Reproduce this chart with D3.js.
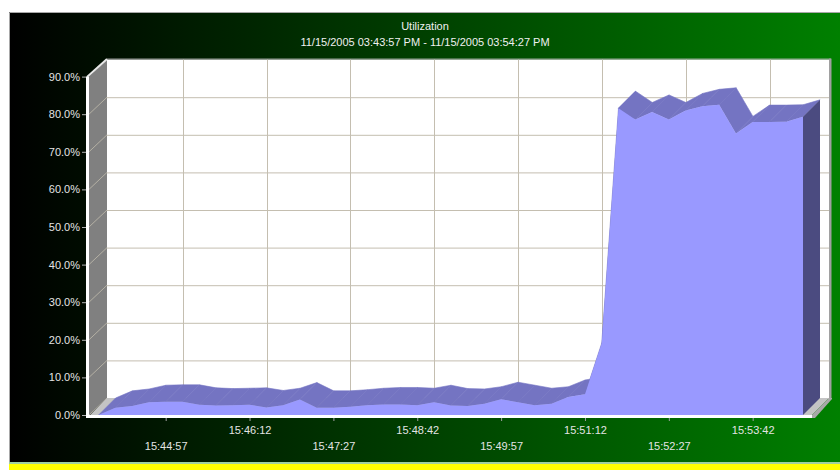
<!DOCTYPE html>
<html>
<head>
<meta charset="utf-8">
<script src="https://cdn.jsdelivr.net/npm/d3@7"></script>
<style>
  html, body { margin: 0; padding: 0; background: #ffffff; }
  svg { display: block; }
  text { font-family: "Liberation Sans", Arial, sans-serif; }
</style>
</head>
<body>
<svg id="chart" width="840" height="470"></svg>
<script>
// ---------- data ----------
const chartTitle = "Utilization";
const chartSubtitle = "11/15/2005 03:43:57 PM - 11/15/2005 03:54:27 PM";

const times = [
  "15:43:57","15:44:12","15:44:27","15:44:42","15:44:57","15:45:12","15:45:27","15:45:42",
  "15:45:57","15:46:12","15:46:27","15:46:42","15:46:57","15:47:12","15:47:27","15:47:42",
  "15:47:57","15:48:12","15:48:27","15:48:42","15:48:57","15:49:12","15:49:27","15:49:42",
  "15:49:57","15:50:12","15:50:27","15:50:42","15:50:57","15:51:12","15:51:27","15:51:42",
  "15:51:57","15:52:12","15:52:27","15:52:42","15:52:57","15:53:12","15:53:27","15:53:42",
  "15:53:57","15:54:12","15:54:27"
];
const utilization = [
  0.0, 1.9, 2.4, 3.4, 3.5, 3.5, 2.7, 2.5,
  2.6, 2.7, 2.0, 2.6, 4.1, 1.9, 1.9, 2.2,
  2.6, 2.8, 2.8, 2.6, 3.4, 2.5, 2.4, 3.0,
  4.2, 3.4, 2.6, 3.0, 4.8, 5.5, 19.1, 81.6,
  78.6, 80.6, 78.6, 81.0, 82.1, 82.5, 74.9, 77.9,
  77.9, 78.0, 79.3
];
const xTickLabels = ["15:44:57","15:46:12","15:47:27","15:48:42","15:49:57","15:51:12","15:52:27","15:53:42"];
const yTickValues = [0, 10, 20, 30, 40, 50, 60, 70, 80, 90];

// ---------- layout ----------
const W = 840, H = 470;
const DX = 17, DY = 17;           // 3D depth offset
const FL = 90, FR = 812;          // floor front left/right
const Y0 = 415, Y90 = 76.6;       // front y of 0% and 90%
const XS = 98.6, XE = 803;        // x of first/last sample

const parse = d3.timeParse("%H:%M:%S");
const data = times.map((t, i) => ({ t: parse(t), v: utilization[i] }));

const x = d3.scaleTime().domain([data[0].t, data[data.length - 1].t]).range([XS, XE]);
const y = d3.scaleLinear().domain([0, 90]).range([Y0, Y90]);

const svg = d3.select("#chart");

// ---------- background panel ----------
const defs = svg.append("defs");
const grad = defs.append("linearGradient").attr("id", "bg").attr("x1", 0).attr("x2", 1).attr("y1", 0).attr("y2", 0);
grad.append("stop").attr("offset", "0%").attr("stop-color", "#000000");
grad.append("stop").attr("offset", "100%").attr("stop-color", "#008000");

svg.append("rect").attr("x", 0).attr("y", 0).attr("width", W).attr("height", H).attr("fill", "#ffffff");
svg.append("rect").attr("x", 9).attr("y", 12).attr("width", W - 9).attr("height", 450).attr("fill", "url(#bg)");
svg.append("path").attr("d", `M9.5,462 V12.5 H${W}`).attr("fill", "none").attr("stroke", "#a8a8a8").attr("stroke-width", 1);
svg.append("rect").attr("x", 9).attr("y", 462).attr("width", W - 9).attr("height", 2).attr("fill", "#9fd09f");
svg.append("rect").attr("x", 9).attr("y", 464).attr("width", W - 9).attr("height", 6).attr("fill", "#ffff00");

// ---------- titles ----------
svg.append("text").attr("x", 425).attr("y", 30).attr("text-anchor", "middle")
  .attr("font-size", 11).attr("fill", "#f0f0f0").text(chartTitle);
svg.append("text").attr("x", 425).attr("y", 46).attr("text-anchor", "middle")
  .attr("font-size", 11).attr("fill", "#f0f0f0").text(chartSubtitle);

// ---------- back wall ----------
const bx0 = FL + DX, bx1 = FR + DX, by0 = y(0) - DY, by1 = y(90) - DY;
svg.append("rect").attr("x", bx0).attr("y", by1).attr("width", bx1 - bx0).attr("height", by0 - by1).attr("fill", "#ffffff");
svg.append("line").attr("x1", bx0).attr("x2", bx1 + 2).attr("y1", by1 - 0.5).attr("y2", by1 - 0.5)
  .attr("stroke", "#b8b8b8").attr("stroke-width", 1);
svg.append("rect").attr("x", bx1).attr("y", by1 - 1).attr("width", 2.5).attr("height", by0 - by1 + 1).attr("fill", "#a0a0a0");

const gridColor = "#c4beb0";
const grid = svg.append("g");
yTickValues.filter(v => v < 90).forEach(v => {
  grid.append("line").attr("x1", bx0).attr("x2", bx1).attr("y1", y(v) - DY + 0.5).attr("y2", y(v) - DY + 0.5)
    .attr("stroke", gridColor).attr("stroke-width", 1);
});
xTickLabels.forEach(s => {
  const gx = Math.round(x(parse(s)) + DX) + 0.5;
  grid.append("line").attr("x1", gx).attr("x2", gx).attr("y1", by1).attr("y2", by0)
    .attr("stroke", gridColor).attr("stroke-width", 1);
});

// ---------- left wall ----------
svg.append("polygon")
  .attr("points", [[FL - 1, y(90)], [bx0, by1], [bx0, by0], [FL - 1, y(0)]].map(p => p.join(",")).join(" "))
  .attr("fill", "#808080");
yTickValues.filter(v => v < 90).forEach(v => {
  svg.append("line").attr("x1", FL - 1).attr("y1", y(v)).attr("x2", bx0).attr("y2", y(v) - DY)
    .attr("stroke", "#b4b0a4").attr("stroke-width", 1);
});
svg.append("line").attr("x1", FL - 3).attr("y1", y(90) + 0.5).attr("x2", bx0).attr("y2", by1 - 0.5)
  .attr("stroke", "#e8e8e8").attr("stroke-width", 2);

// ---------- floor ----------
svg.append("polygon")
  .attr("points", [[FL, y(0)], [FR, y(0)], [FR + DX, by0], [FL + DX, by0]].map(p => p.join(",")).join(" "))
  .attr("fill", "#c4c4c4");

// ---------- 3D area ----------
const topColor = "#7474c2", frontColor = "#9999ff", capColor = "#4b4b80";
const tops = svg.append("g");
for (let i = 0; i < data.length - 1; i++) {
  const a = data[i], b = data[i + 1];
  const pts = [
    [x(a.t), y(a.v)], [x(b.t), y(b.v)],
    [x(b.t) + DX, y(b.v) - DY], [x(a.t) + DX, y(a.v) - DY]
  ];
  tops.append("polygon").attr("points", pts.map(p => p.join(",")).join(" "))
    .attr("fill", topColor).attr("stroke", topColor).attr("stroke-width", 0.6).attr("stroke-linejoin", "round");
}
const area = d3.area().x(d => x(d.t)).y0(y(0)).y1(d => y(d.v));
svg.append("path").datum(data).attr("d", area).attr("fill", frontColor);

const last = data[data.length - 1];
svg.append("polygon")
  .attr("points", [[x(last.t), y(last.v)], [x(last.t) + DX, y(last.v) - DY], [x(last.t) + DX, y(0) - DY], [x(last.t), y(0)]]
    .map(p => p.join(",")).join(" "))
  .attr("fill", capColor);

// ---------- floor front edge and right side ----------
svg.append("polygon")
  .attr("points", [[FR, y(0)], [FR + DX, by0], [FR + DX + 3, by0], [FR + DX + 3, by0 + 1], [FR + 3, y(0) + 3], [FR, y(0) + 3]]
    .map(p => p.join(",")).join(" "))
  .attr("fill", "#a8a8a8");
svg.append("rect").attr("x", FL - 4).attr("y", y(0)).attr("width", FR - FL + 4).attr("height", 3).attr("fill", "#ffffff");
svg.append("rect").attr("x", FL - 4).attr("y", y(90)).attr("width", 3).attr("height", y(0) - y(90) + 3).attr("fill", "#ffffff");

// ---------- axes ----------
const labelColor = "#e4e4e4";
const yAxis = d3.axisLeft(y).tickValues(yTickValues).tickFormat(d => d.toFixed(1) + "%").tickSize(4).tickPadding(2);
const gy = svg.append("g").attr("transform", `translate(${FL - 4},0)`).call(yAxis);
gy.select(".domain").remove();
gy.selectAll(".tick line").attr("stroke", "#b0b0b0");
gy.selectAll(".tick text").attr("fill", labelColor).attr("font-size", 11)
  .attr("font-family", "'Liberation Sans', Arial, sans-serif");

const xTickDates = xTickLabels.map(parse);
const xAxis = d3.axisBottom(x).tickValues(xTickDates).tickFormat(d3.timeFormat("%H:%M:%S")).tickSize(3);
const gx = svg.append("g").attr("transform", `translate(0,${y(0) + 3})`).call(xAxis);
gx.select(".domain").remove();
gx.selectAll(".tick line").attr("stroke", "#a0a0a0");
gx.selectAll(".tick text")
  .attr("fill", labelColor).attr("font-size", 11)
  .attr("font-family", "'Liberation Sans', Arial, sans-serif")
  .attr("y", (d, i) => (i % 2 === 0 ? 24 : 8));
</script>
</body>
</html>
